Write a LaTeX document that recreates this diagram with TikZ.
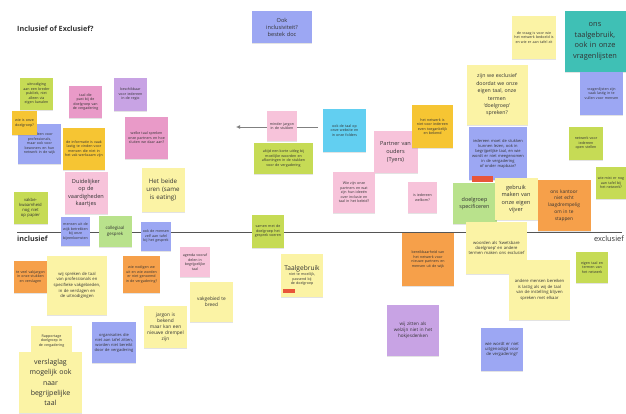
\documentclass[tikz,border=0pt]{standalone}
\usepackage{fontspec}
\setmainfont{Open Sans}
\usetikzlibrary{shadows,arrows.meta}
\hyphenpenalty=10000
\exhyphenpenalty=10000
\definecolor{cgreen}{HTML}{C6DB55}
\definecolor{clgreen}{HTML}{B9E28C}
\definecolor{cblue}{HTML}{9CA7F3}
\definecolor{cpink}{HTML}{E99AC8}
\definecolor{clpink}{HTML}{F7C3DA}
\definecolor{cpurple}{HTML}{C8A3E4}
\definecolor{cgold}{HTML}{F6C533}
\definecolor{corange}{HTML}{F6A04A}
\definecolor{cyellow}{HTML}{FBF3A5}
\definecolor{ccyan}{HTML}{62CFF1}
\definecolor{cteal}{HTML}{3FC0B5}
\definecolor{cred}{HTML}{E8553A}
\definecolor{cline}{HTML}{555555}
\definecolor{ctext}{HTML}{333333}
\tikzset{
  note/.style={draw=none, inner sep=1.5pt, align=center, text=ctext,
    font=\fontsize{3.6}{4.5}\selectfont,
    drop shadow={shadow xshift=0.4pt, shadow yshift=-1.4pt, opacity=0.22}},
  nb/.style n args={3}{minimum width=#1pt, minimum height=#2pt, text width=#3pt},
  redbar/.style={fill=cred, draw=none, inner sep=0pt, anchor=south west},
  axislabel/.style={font=\bfseries\fontsize{7.2}{8}\selectfont, text=ctext, inner sep=0pt},
}
\begin{document}
\begin{tikzpicture}[x=1pt,y=-1pt]
\useasboundingbox[fill=white] (0,0) rectangle (626,414);
% title
\node[axislabel, anchor=west] (title) at (17,29) {Inclusief of Exclusief?};
% axis
\coordinate (lstart) at (17,232);
\coordinate (lend) at (622,232);
\draw[cline, line width=0.9pt] (lstart) -- (lend);
\node[axislabel, anchor=west] (incl) at (17,238.5) {inclusief};
\node[axislabel, anchor=east, font=\fontsize{7.4}{8}\selectfont] (excl) at (624,238.5) {exclusief};
% arrow
\coordinate (arrS) at (318,127);
\coordinate (arrE) at (236,127);
\draw[gray, line width=0.8pt, -{Latex[length=4pt,width=4pt]}] (arrS) -- (arrE);

% ---------- left cluster ----------
\node[note, fill=cgreen, nb={33}{32}{29}] (g1) at (36.5,94) {uitnodiging aan een breder publiek, niet alleen via eigen kanalen};
\node[note, fill=cpink, nb={33}{32}{29}] (p1) at (85.5,102) {taal die past bij de doelgroep van de vergadering};
\node[note, fill=cpurple, nb={33}{33}{29}] (v1) at (130.5,94.5) {beschikbaar voor iedereen in de regio};
\node[note, fill=cblue, nb={43}{40}{38}] (b1) at (39.5,144) {niet alleen voor professionals, maar ook voor bewoners en hun netwerk in de wijk};
\node[note, fill=cgold, nb={25}{24}{22}] (o1) at (24.5,123) {wie is onze doelgroep?};
\node[note, fill=cgold, nb={42}{42}{38}] (gd1) at (84,149) {de informatie is vaak lastig te vinden voor mensen die niet in het vak werkzaam zijn};
\node[note, fill=cpink, nb={43}{42}{38}] (p2) at (146.5,138) {welke taal spreken onze partners en hoe sluiten we daar aan?};
\node[note, fill=clpink, font=\fontsize{5.6}{7.4}\selectfont, nb={42}{42}{40}] (lp1) at (86,193) {Duidelijker\\op de\\vaardigheden\\kaartjes};
\node[note, fill=cyellow, font=\fontsize{6.2}{8}\selectfont, nb={42}{44}{40}] (y1) at (163,190) {Het beide\\uren (same\\is eating)};
\node[note, fill=cgreen, font=\fontsize{4.2}{5.2}\selectfont, nb={33}{32}{31}] (g2) at (30.5,208) {vakbe-\\kwaamheid\\nog niet\\op papier};
\node[note, fill=cblue, nb={29}{29}{26}] (b2) at (75.5,231.5) {mensen uit de wijk betrekken bij onze bijeenkomsten};
\node[note, fill=clgreen, font=\fontsize{4.4}{5.4}\selectfont, nb={32}{31}{30}] (g3) at (115,231.5) {collegiaal\\gesprek};
\node[note, fill=cblue, nb={30}{29}{27}] (b3) at (156,236.5) {ook de mensen zelf aan tafel bij het gesprek};
\node[note, fill=corange, nb={33}{32}{30}] (o2) at (30.5,277) {te veel vakjargon in onze stukken en verslagen};
\node[note, fill=cyellow, font=\fontsize{4.2}{5.6}\selectfont, nb={60}{59}{54}] (y2) at (77,285.5) {wij spreken de taal van professionals en specifieke vakgebieden, in de verslagen en de uitnodigingen};
\node[note, fill=corange, nb={37}{37}{33}] (o3) at (141.5,274.5) {wie nodigen we uit en wie worden er niet genoemd in de vergadering?};
\node[note, fill=clpink, nb={30}{30}{27}] (lp2) at (195,262) {agenda vooraf delen in begrijpelijke taal};
\node[note, fill=cyellow, font=\fontsize{4.8}{6}\selectfont, nb={43}{40}{40}] (y3) at (211.5,302) {vakgebied te\\breed};
\node[note, fill=cyellow, font=\fontsize{4.8}{6}\selectfont, nb={43}{42}{40}] (y4) at (165.5,327) {jargon is\\bekend\\maar kan een\\nieuwe drempel\\zijn};
\node[note, fill=cblue, font=\fontsize{4}{5}\selectfont, nb={44}{41}{40}] (b4) at (114,342.5) {organisaties die niet aan tafel zitten, worden niet bereikt door de vergadering};
\node[note, fill=cyellow, nb={41}{30}{37}] (y5) at (51.5,341) {Rapportage doelgroep in de vergadering};
\node[note, fill=cyellow, font=\fontsize{7}{10.2}\selectfont, nb={63}{61}{60}] (y6) at (50.5,382.5) {verslaglag\\mogelijk ook\\naar\\begrijpelijke\\taal};

% ---------- middle ----------
\node[note, fill=cblue, font=\fontsize{5.6}{7}\selectfont, nb={60}{32}{56}] (b5) at (282,27) {Ook\\inclusiviteit?\\bestek doc};
\node[note, fill=clpink, nb={30}{30}{27}] (lp3) at (282,126) {minder jargon in de stukken};
\node[note, fill=cgreen, nb={59}{31}{55}] (g4) at (283.5,158.5) {altijd een korte uitleg bij moeilijke woorden en afkortingen in de stukken voor de vergadering};
\node[note, fill=ccyan, nb={43}{43}{39}] (c1) at (344.5,130.5) {ook de taal op onze website en in onze folders};
\node[note, fill=clpink, font=\fontsize{5.6}{8}\selectfont, nb={43}{42}{41}] (lp4) at (395.5,152) {Partner van\\ouders\\(Tyers)};
\node[note, fill=clpink, nb={42}{41}{38}] (lp5) at (354,192.5) {Wie zijn onze partners en wat zijn hun ideeën over inclusie en taal in het beleid?};
\node[note, fill=cgold, nb={41}{43}{37}] (gd2) at (432.5,126.5) {het netwerk is niet voor iedereen even toegankelijk en bekend};
\node[note, fill=clpink, nb={29}{31}{26}] (lp6) at (422.5,197.5) {is iedereen welkom?};
\node[note, fill=cgreen, nb={32}{33}{29}] (g5) at (268,231.5) {samen met de doelgroep het gesprek voeren};
\node[note, fill=cyellow, nb={42}{43}{39}] (y7) at (302,275.5) {{\fontsize{6.6}{8}\selectfont Taalgebruik}\\[1pt]niet te moeilijk, passend bij de doelgroep};
\node[redbar, minimum width=12pt, minimum height=4pt] (y7bar) at ([xshift=2pt,yshift=4pt]y7.south west) {};
\node[note, fill=corange, nb={52}{53}{48}] (o4) at (428,259.5) {bereikbaarheid van het netwerk voor nieuwe partners en mensen uit de wijk};
\node[note, fill=cpurple, font=\fontsize{4.6}{6}\selectfont, nb={52}{51}{48}] (v2) at (413,330.5) {wij zitten als welzijn niet in het hokjesdenken};

% ---------- right cluster ----------
\node[note, fill=cyellow, nb={44}{43}{40}] (y8) at (534,37.5) {de vraag is voor wie het netwerk bedoeld is en wie er aan tafel zit};
\node[note, fill=cteal, font=\fontsize{7.4}{10.6}\selectfont, nb={60}{61}{58}] (t1) at (595,41.5) {ons\\taalgebruik,\\ook in onze\\vragenlijsten};
\node[note, fill=cblue, nb={43}{43}{39}] (b6) at (601.5,93.5) {vragenlijsten zijn vaak lastig in te vullen voor mensen};
\node[note, fill=cyellow, font=\fontsize{5.2}{7.4}\selectfont, nb={60}{60}{58}] (y9) at (497,95) {zijn we exclusief\\doordat we onze\\eigen taal, onze\\termen\\`doelgroep'\\spreken?};
\node[note, fill=cblue, font=\fontsize{4}{5}\selectfont, nb={58}{53}{54}] (b7) at (498,153.5) {iedereen moet de stukken kunnen lezen, ook in begrijpelijke taal, en wie wordt er niet meegenomen in de vergadering of onder mapbaar?};
\node[redbar, anchor=north west, minimum width=21pt, minimum height=6pt] (b7bar) at ([xshift=3pt,yshift=4pt]b7.south west) {};
\node[note, fill=cgreen, nb={34}{33}{31}] (g6) at (586,143.5) {netwerk voor iedereen open stellen};
\node[note, fill=cgreen, nb={30}{32}{27}] (g7) at (611,183) {wie mist er nog aan tafel bij het netwerk?};
\node[note, fill=clgreen, font=\fontsize{5.4}{6.8}\selectfont, nb={43}{41}{41}] (lg1) at (474.5,203.5) {doelgroep\\specificeren};
\node[note, fill=cyellow, font=\fontsize{5.6}{7.4}\selectfont, nb={42}{42}{40}] (y10) at (516,199) {gebruik\\maken van\\onze eigen\\vijver};
\node[note, fill=corange, font=\fontsize{4.8}{6.8}\selectfont, nb={52}{51}{50}] (o5) at (564,205.5) {ons kantoor\\niet echt\\laagdrempelig\\om in te\\stappen};
\node[note, fill=cyellow, font=\fontsize{4.2}{5.4}\selectfont, nb={61}{52}{57}] (y11) at (496.5,248) {woorden als `kwetsbare doelgroep' en andere termen maken ons exclusief};
\node[note, fill=cyellow, font=\fontsize{4.2}{5.4}\selectfont, nb={61}{60}{57}] (y12) at (539.5,290) {andere mensen bereiken is lastig als wij de taal van de instelling blijven spreken met elkaar};
\node[note, fill=cgreen, nb={32}{31}{29}] (g8) at (592,267.5) {eigen taal en termen van het netwerk};
\node[note, fill=cblue, font=\fontsize{4.2}{5.4}\selectfont, nb={42}{43}{39}] (b8) at (502,349.5) {wie wordt er niet uitgenodigd voor de vergadering?};
\end{tikzpicture}
\end{document}
